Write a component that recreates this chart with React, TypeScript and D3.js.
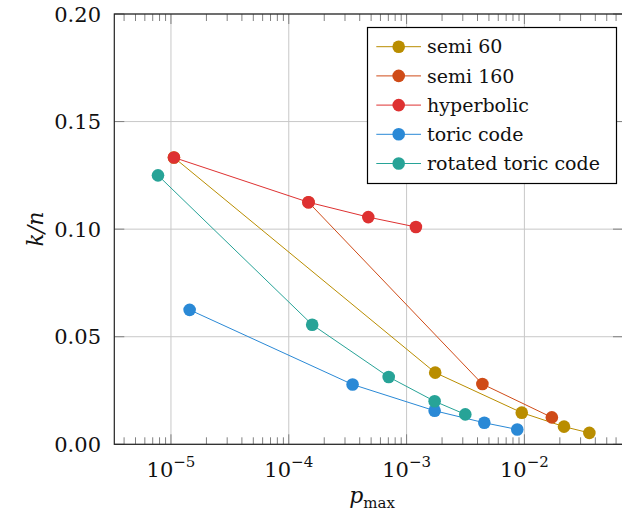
import React from "react";
import * as d3 from "d3";

const seriesNames = ["semi 60", "semi 160", "hyperbolic", "toric code", "rotated toric code"];
const seriesColors = ["#b98d00", "#cf4b17", "#de3131", "#2a89d6", "#27a397"];

const semi60X = [1.06e-5, 1.75e-3, 9.5e-3, 0.0217, 0.0356];
const semi60Y = [0.1333, 0.0333, 0.0147, 0.0082, 0.0053];
const semi160X = [1.47e-4, 4.4e-3, 0.0171];
const semi160Y = [0.1125, 0.028, 0.0125];
const hyperbolicX = [1.06e-5, 1.47e-4, 4.73e-4, 1.2e-3];
const hyperbolicY = [0.1333, 0.1125, 0.1056, 0.101];
const toricX = [1.44e-5, 3.48e-4, 1.73e-3, 4.57e-3, 8.7e-3];
const toricY = [0.0625, 0.0278, 0.0156, 0.01, 0.0069];
const rotatedX = [7.76e-6, 1.58e-4, 7.05e-4, 1.73e-3, 3.15e-3];
const rotatedY = [0.125, 0.0556, 0.0313, 0.02, 0.0139];

const xTickExps = [-5, -4, -3, -2];
const yTicks = [0, 0.05, 0.1, 0.15, 0.2];
const yTickLabels = ["0.00", "0.05", "0.10", "0.15", "0.20"];

const allX = [semi60X, semi160X, hyperbolicX, toricX, rotatedX];
const allY = [semi60Y, semi160Y, hyperbolicY, toricY, rotatedY];

const W = 622;
const H = 515;
const left = 114.3;
const right = 623;
const top = 14;
const bottom = 444.3;
const FONT = "DejaVu Serif, serif";

export default function App() {
  const x = d3.scaleLog().domain([Math.pow(10, -5.481), Math.pow(10, -1.163)]).range([left, right]);
  const y = d3.scaleLinear().domain([0, 0.2]).range([bottom, top]);
  const line = d3
    .line<[number, number]>()
    .x((d) => x(d[0]))
    .y((d) => y(d[1]));

  const minor: number[] = [];
  for (let e = -6; e <= -1; e++) {
    for (let m = 2; m <= 9; m++) {
      const v = m * Math.pow(10, e);
      const px = x(v);
      if (px > left + 0.5 && px < right - 0.5) minor.push(v);
    }
  }

  const gridColor = "#c8c8c8";
  const tickColor = "#808080";

  const legendX = 367.5;
  const legendY = 27.5;
  const legendW = 249;
  const legendH = 156;
  const rowH = 29.2;

  return (
    <svg
      width={W}
      height={H}
      style={{ position: "absolute", left: 0, top: 0, background: "#fff", fontFamily: FONT }}
    >
      <rect x={0} y={0} width={W} height={H} fill="#fff" />
      {xTickExps.map((e) => (
        <line key={"gx" + e} x1={x(Math.pow(10, e))} x2={x(Math.pow(10, e))} y1={top} y2={bottom} stroke={gridColor} strokeWidth={1} />
      ))}
      {yTicks.map((t) => (
        <line key={"gy" + t} x1={left} x2={right} y1={y(t)} y2={y(t)} stroke={gridColor} strokeWidth={1} />
      ))}
      {minor.map((v, i) => (
        <g key={"mn" + i}>
          <line x1={x(v)} x2={x(v)} y1={bottom} y2={bottom - 7} stroke={tickColor} strokeWidth={1} />
          <line x1={x(v)} x2={x(v)} y1={top} y2={top + 7} stroke={tickColor} strokeWidth={1} />
        </g>
      ))}
      {xTickExps.map((e) => (
        <g key={"mx" + e}>
          <line x1={x(Math.pow(10, e))} x2={x(Math.pow(10, e))} y1={bottom} y2={bottom - 10} stroke={tickColor} strokeWidth={1} />
          <line x1={x(Math.pow(10, e))} x2={x(Math.pow(10, e))} y1={top} y2={top + 10} stroke={tickColor} strokeWidth={1} />
        </g>
      ))}
      {yTicks.map((t) => (
        <g key={"my" + t}>
          <line x1={left} x2={left + 10} y1={y(t)} y2={y(t)} stroke={tickColor} strokeWidth={1} />
          <line x1={right} x2={right - 10} y1={y(t)} y2={y(t)} stroke={tickColor} strokeWidth={1} />
        </g>
      ))}
      <rect x={left} y={top} width={right - left} height={bottom - top} fill="none" stroke="#222" strokeWidth={1.2} />

      {allX.map((xs, si) => {
        const pts: [number, number][] = xs.map((v, i) => [v, allY[si][i]]);
        return (
          <g key={"s" + si}>
            <path d={line(pts) || ""} fill="none" stroke={seriesColors[si]} strokeWidth={1} />
            {pts.map((p, i) => (
              <circle key={i} cx={x(p[0])} cy={y(p[1])} r={6.3} fill={seriesColors[si]} />
            ))}
          </g>
        );
      })}

      {yTicks.map((t, i) => (
        <text key={"yl" + t} x={101} y={y(t)} dy="0.36em" textAnchor="end" fontSize={21} fill="#111">
          {yTickLabels[i]}
        </text>
      ))}
      {xTickExps.map((e) => (
        <text key={"xl" + e} x={x(Math.pow(10, e))} y={477} textAnchor="middle" fontSize={21} fill="#111">
          10
          <tspan fontSize={15} dy={-10}>
            {"\u2212" + Math.abs(e)}
          </tspan>
        </text>
      ))}

      <text x={372} y={503} textAnchor="middle" fontSize={22} fill="#111">
        <tspan fontStyle="italic">p</tspan>
        <tspan fontSize={15} dy={5}>max</tspan>
      </text>
      <text
        transform={`translate(43, ${(top + bottom) / 2}) rotate(-90)`}
        textAnchor="middle"
        fontSize={22}
        fill="#111"
        fontStyle="italic"
      >
        k/n
      </text>

      <rect x={legendX} y={legendY} width={legendW} height={legendH} fill="#fff" stroke="#000" strokeWidth={1.2} />
      {seriesNames.map((name, i) => {
        const cy = 46.7 + i * rowH;
        return (
          <g key={"lg" + i}>
            <line x1={376.3} x2={421} y1={cy} y2={cy} stroke={seriesColors[i]} strokeWidth={1} />
            <circle cx={398.7} cy={cy} r={6.3} fill={seriesColors[i]} />
            <text x={427} y={cy} dy="0.35em" fontSize={19} fill="#111">
              {name}
            </text>
          </g>
        );
      })}
    </svg>
  );
}
